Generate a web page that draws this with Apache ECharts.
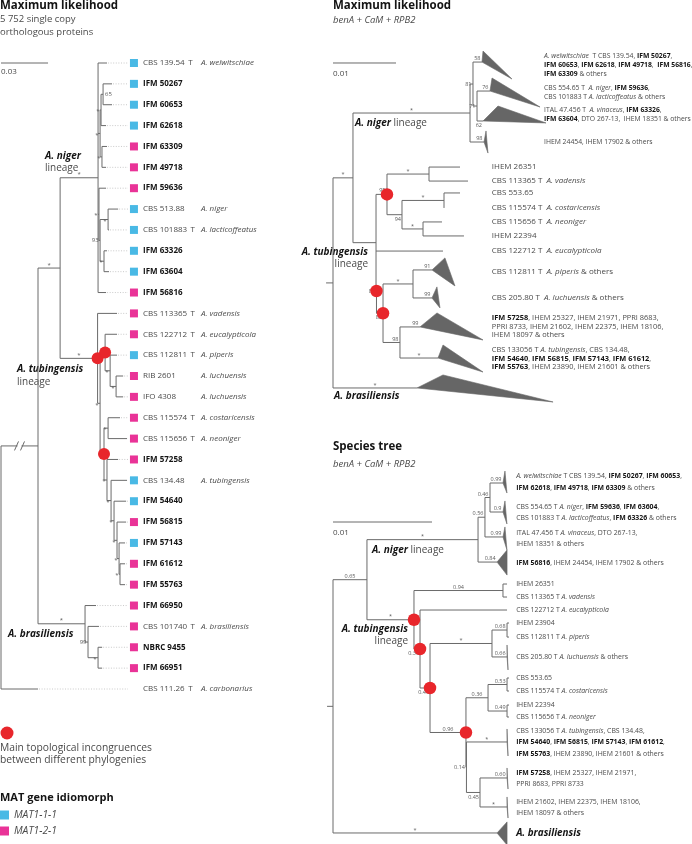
<!DOCTYPE html>
<html><head><meta charset="utf-8">
<script src="https://cdn.jsdelivr.net/npm/echarts/dist/echarts.min.js"></script>
<style>html,body{margin:0;padding:0;background:#fff}#c{width:692px;height:844px}</style>
</head><body><div id="c"></div>
<script>
// ================= DATA =================
// Tree 1: ML, 5 752 single copy orthologous proteins.  [id, parent, depth (x0.001 subst./site), leaf row]
const genomeNodes = [
 ['root', null, 0], ['ING','root',23.6], ['carb','root',23.6,30], ['NT','ING',37.7],
 ['NIG','NT',61.9], ['welw','NIG',67.6,0], ['A1','NIG',63.2], ['A2','A1',63.8], ['A3','A2',65.1],
 ['g50267','A3',70.8,1], ['g60653','A3',70.8,2], ['g62618','A2',67.0,3], ['A4','A1',64.4],
 ['g63309','A4',67.6,4], ['g49718','A4',67.0,5], ['B1','NIG',62.5], ['g59636','B1',67.0,6],
 ['B2','B1',63.2], ['B3','B2',68.3], ['g51388','B3',74.7,7], ['g101883','B3',68.9,8], ['B4','B2',65.7],
 ['g63326','B4',67.6,9], ['g63604','B4',68.9,10], ['g56816','NIG',67.0,11],
 ['TUB','NT',61.6], ['gvad','TUB',74.0,12], ['T1','TUB',63.2], ['T2','T1',66.4], ['geuca','T2',74.0,13],
 ['T2b','T2',69.6], ['gpip','T2b',74.0,14], ['T2c','T2b',73.4], ['grib','T2c',77.9,15], ['gifo','T2c',77.9,16],
 ['T3','T1',65.7], ['CN','T3',68.3], ['gcos','CN',75.9,17], ['gneo','CN',80.4,18], ['T4','T3',67.6],
 ['g57258','T4',74.7,19], ['T5','T4',70.2], ['g13448','T5',80.4,20], ['T6','T5',72.1], ['g54640','T6',79.8,21],
 ['T7','T6',74.0], ['g56815','T7',79.8,22], ['T8','T7',75.3], ['g57143','T8',79.1,23], ['T9','T8',75.9],
 ['g61612','T9',79.1,24], ['g55763','T9',79.1,25],
 ['BRA','ING',53.6], ['g66950','BRA',60.6,26], ['BR2','BRA',55.5], ['g101740','BR2',62.5,27],
 ['BR3','BR2',61.9], ['g9455','BR3',64.5,28], ['g66951','BR3',64.5,29]
];
const genomeStrains = { welw:'CBS 139.54', g50267:'IFM 50267', g60653:'IFM 60653', g62618:'IFM 62618',
 g63309:'IFM 63309', g49718:'IFM 49718', g59636:'IFM 59636', g51388:'CBS 513.88', g101883:'CBS 101883',
 g63326:'IFM 63326', g63604:'IFM 63604', g56816:'IFM 56816', gvad:'CBS 113365', geuca:'CBS 122712',
 gpip:'CBS 112811', grib:'RIB 2601', gifo:'IFO 4308', gcos:'CBS 115574', gneo:'CBS 115656', g57258:'IFM 57258',
 g13448:'CBS 134.48', g54640:'IFM 54640', g56815:'IFM 56815', g57143:'IFM 57143', g61612:'IFM 61612',
 g55763:'IFM 55763', g66950:'IFM 66950', g101740:'CBS 101740', g9455:'NBRC 9455', g66951:'IFM 66951', carb:'CBS 111.26' };
const genomeSpecies = { welw:'A. welwitschiae', g51388:'A. niger', g101883:'A. lacticoffeatus', gvad:'A. vadensis',
 geuca:'A. eucalypticola', gpip:'A. piperis', grib:'A. luchuensis', gifo:'A. luchuensis', gcos:'A. costaricensis',
 gneo:'A. neoniger', g13448:'A. tubingensis', g101740:'A. brasiliensis', carb:'A. carbonarius' };
const genomeTypeStrains = ['welw','g101883','gvad','geuca','gpip','gcos','gneo','g101740','carb'];
const genomeMAT111 = ['welw','g50267','g60653','g62618','g51388','g101883','g63326','g63604','gpip','g13448','g54640','g57143'];
const genomeMAT121 = ['g63309','g49718','g59636','g56816','gvad','geuca','grib','gifo','gcos','gneo','g57258','g56815',
 'g61612','g55763','g66950','g101740','g9455','g66951'];
const genomeSupport = { NT:'*', NIG:'*', TUB:'*', BRA:'*', A1:'*', A2:'*', A3:'65', A4:'*', B1:'*', B2:'93', B3:'*', B4:'*',
 T1:'*', T2:'*', T2b:'*', T2c:'*', T3:'*', CN:'*', T4:'*', T5:'*', T6:'*', T7:'*', T8:'*', T9:'*', BR2:'99', BR3:'*' };
const genomeIncongruent = ['TUB','T2','T3'];

// Tree 2: ML benA + CaM + RPB2. [id, parent, depth (x0.001), row, collapsed clade [dxTop, dyTop, dxBottom, dyBottom]]
const geneNodes = [
 ['R',null,0], ['NT','R',3.17], ['NIG','NT',21.75], ['N81','NIG',22.22],
 ['T58','N81',23.65,1.29,[0.16,-0.79,4.76,1.21]], ['N71','N81',22.86],
 ['T76','N71',24.92,3.36,[0.32,-0.93,7.94,1.14]], ['T62','N71',23.81,5.5,[2.38,-1.07,10.0,0.14]],
 ['C98','NIG',23.97,7.0,[0.32,-0.79,0.63,0.79]],
 ['TUB','NT',6.83], ['T95','TUB',8.57], ['V','T95',15.24], ['h26351','V',20.16,8.79], ['hvad','V',21.43,9.79],
 ['C94','T95',10.95], ['C1','C94',17.62], ['h55365','C1',20.16,10.64], ['hcos','C1',17.62,11.71],
 ['C2','C94',14.29], ['hneo','C2',17.3,12.71], ['h22394','C2',20.79,13.71], ['heuca','TUB',17.46,14.79],
 ['N82a','TUB',6.9,17.64], ['N82b','N82a',7.94], ['PL','N82b',12.7],
 ['T91','PL',15.71,16.14,[2.06,-0.86,3.65,1.14]], ['T99a','PL',15.71,18.14,[0.79,-0.79,1.27,0.71]],
 ['T98','N82b',10.63], ['T99b','T98',13.81,20.21,[2.7,-1.0,10.0,0.93]], ['Tst','T98',16.67,22.43,[0.79,-0.93,7.14,1.0]],
 ['BRA','R',13.33,24.57,[4.13,-0.93,21.6,1.0]]
];
const geneLabels = {
 T58:'{i|A. welwitschiae}  T CBS 139.54, {b|IFM 50267},\n{b|IFM 60653}, {b|IFM 62618}, {b|IFM 49718},  {b|IFM 56816},\n{b|IFM 63309} & others',
 T76:'CBS 554.65 T  {i|A. niger}, {b|IFM 59636},\nCBS 101883 T {i|A. lacticoffeatus} & others',
 T62:'ITAL 47.456 T  {i|A. vinaceus}, {b|IFM 63326},\n{b|IFM 63604}, DTO 267-13,  IHEM 18351 & others',
 C98:'IHEM 24454, IHEM 17902 & others',
 h26351:'IHEM 26351', hvad:'CBS 113365 T  {i|A. vadensis}', h55365:'CBS 553.65',
 hcos:'CBS 115574 T  {i|A. costaricensis}', hneo:'CBS 115656 T  {i|A. neoniger}', h22394:'IHEM 22394',
 heuca:'CBS 122712 T  {i|A. eucalypticola}', T91:'CBS 112811 T  {i|A. piperis} & others',
 T99a:'CBS 205.80 T  {i|A. luchuensis} & others',
 T99b:'{b|IFM 57258}, IHEM 25327, IHEM 21971, PPRI 8683,\nPPRI 8733, IHEM 21602, IHEM 22375, IHEM 18106,\nIHEM 18097 & others',
 Tst:'CBS 133056 T {i|A. tubingensis}, CBS 134.48,\n{b|IFM 54640}, {b|IFM 56815}, {b|IFM 57143}, {b|IFM 61612},\n{b|IFM 55763}, IHEM 23890, IHEM 21601 & others'
};
const geneSupport = { NT:'*', NIG:'*', N81:'81', T58:'58', N71:'71', T76:'76', T62:'62', C98:'98', T95:'95', V:'*',
 C94:'94', C1:'*', C2:'*', N82a:'82', N82b:'82', PL:'*', T91:'91', T99a:'99', T98:'98', T99b:'99', Tst:'*', BRA:'*' };
const geneIncongruent = ['T95','N82a','N82b'];

// Tree 3: species tree benA + CaM + RPB2
const speciesNodes = [
 ['R',null,0], ['NT','R',3.43], ['NIG','NT',14.65], ['N56','NIG',15.35], ['N46','N56',15.86],
 ['C99a','N46',17.17,1.77,[0.2,-0.92,0.4,0.77]], ['C09','N46',17.17,4.0,[0.2,-0.85,0.4,0.92]],
 ['C99b','N56',17.17,5.92,[0.2,-0.77,0.4,1.0]], ['C84','NIG',16.57,7.85,[1.01,-0.92,1.01,1.0]],
 ['TUB','NT',8.18], ['V','TUB',17.17], ['s26351','V',17.58,9.54], ['svad','V',17.58,10.54],
 ['N36','TUB',8.79], ['seuca','N36',17.58,11.54], ['N49','N36',9.8], ['PL','N49',16.06],
 ['N68','PL',17.58], ['s23904','N68',17.78,12.54], ['spip','N68',17.78,13.62],
 ['N66','PL',17.58,15.15,[0,-0.92,0.1,1.0]], ['N96','N49',13.43], ['C36','N96',15.66],
 ['N53','C36',17.58], ['s55365','N53',17.78,16.77], ['scos','N53',17.78,17.77],
 ['N49b','C36',17.58], ['s22394','N49b',17.78,18.85], ['sneo','N49b',17.78,19.77],
 ['N14','N96',13.48], ['Ctub','N14',17.58,21.69,[0,-1.0,0.1,1.08]], ['N45','N14',14.85],
 ['C60','N45',17.58,24.46,[0,-0.77,0.1,0.85]], ['Cst','N45',17.58,26.69,[0,-0.77,0.1,0.85]],
 ['BRA','R',16.57,28.69,[1.01,-0.85,1.01,0.92]]
];
const speciesLabels = {
 C99a:'{i|A. welwitschiae} T CBS 139.54, {b|IFM 50267}, {b|IFM 60653},\n{b|IFM 62618}, {b|IFM 49718}, {b|IFM 63309} & others',
 C09:'CBS 554.65 T {i|A. niger}, {b|IFM 59636}, {b|IFM 63604},\nCBS 101883 T {i|A. lacticoffeatus}, {b|IFM 63326} & others',
 C99b:'ITAL 47.456 T {i|A. vinaceus}, DTO 267-13,\nIHEM 18351 & others',
 C84:'{b|IFM 56816}, IHEM 24454, IHEM 17902 & others',
 s26351:'IHEM 26351', svad:'CBS 113365 T {i|A. vadensis}', seuca:'CBS 122712 T {i|A. eucalypticola}',
 s23904:'IHEM 23904', spip:'CBS 112811 T {i|A. piperis}', N66:'CBS 205.80 T {i|A. luchuensis} & others',
 s55365:'CBS 553.65', scos:'CBS 115574 T {i|A. costaricensis}', s22394:'IHEM 22394', sneo:'CBS 115656 T {i|A. neoniger}',
 Ctub:'CBS 133056 T {i|A. tubingensis}, CBS 134.48,\n{b|IFM 54640}, {b|IFM 56815}, {b|IFM 57143}, {b|IFM 61612},\n{b|IFM 55763}, IHEM 23890, IHEM 21601 & others',
 C60:'{b|IFM 57258}, IHEM 25327, IHEM 21971,\nPPRI 8683, PPRI 8733',
 Cst:'IHEM 21602, IHEM 22375, IHEM 18106,\nIHEM 18097 & others',
 BRA:'{big|A. brasiliensis}'
};
const speciesSupport = { NT:'0.65', NIG:'*', N56:'0.56', N46:'0.46', C99a:'0.99', C09:'0.9', C99b:'0.99', C84:'0.84',
 TUB:'*', V:'0.94', N36:'0.36', N49:'0.49', PL:'*', N68:'0.68', N66:'0.66', N96:'0.96', C36:'0.36', N53:'0.53',
 N49b:'0.49', N14:'0.14', Ctub:'*', N45:'0.45', C60:'0.60', Cst:'*', BRA:'*' };
const speciesIncongruent = ['TUB','N36','N49','N96'];

const scaleBars = [ {len:30, label:'0.03'}, {len:10, label:'0.01'}, {len:10, label:'0.01'} ];

// ================= LAYOUT / STYLE =================
const FONT = '"Open Sans", "Noto Sans", sans-serif';
const TXT = '#4a4a4a', DARK = '#141414', LINE = '#6a6a6a', TRI = '#666666';
const BLUE = '#1BA8DF', PINK = '#E3007D', RED = '#E8262B';

function buildTree(rows) {
  const list = rows.map(r => ({id:r[0], pid:r[1], depth:r[2], row:(r[3] == null ? null : r[3]), tri:r[4] || null, children:[]}));
  const byId = {}; list.forEach(n => byId[n.id] = n);
  list.forEach(n => { n.parent = n.pid ? byId[n.pid] : null; if (n.parent) n.parent.children.push(n); });
  const fix = n => { n.children.forEach(fix);
    if (n.row == null) { const rs = n.children.map(c => c.row); n.row = (Math.min(...rs) + Math.max(...rs)) / 2; } };
  list.filter(n => !n.parent).forEach(fix);
  return {list, byId};
}
const TG = buildTree(genomeNodes), TM = buildTree(geneNodes), TS = buildTree(speciesNodes);

const mctx = document.createElement('canvas').getContext('2d');
function textW(s, font) { mctx.font = font; return mctx.measureText(s).width; }
function rich(size, lh) {
  return {
    b: {font:`bold ${size}px ${FONT}`, fill:DARK, lineHeight:lh},
    i: {font:`italic ${size}px ${FONT}`, fill:TXT, lineHeight:lh},
    bi: {font:`italic bold ${size}px ${FONT}`, fill:DARK, lineHeight:lh},
    big: {font:`italic bold ${size + 3}px ${FONT}`, fill:DARK, lineHeight:lh}
  };
}

const genomePlace = { NT:'mid', NIG:'mid', TUB:'mid', BRA:'mid', A3:'right' };
const genePlace = { NT:'mid', NIG:'mid', V:'mid', C1:'mid', C2:'mid', PL:'mid', Tst:'mid', BRA:'mid',
  N81:'left', N71:'left', N82a:'left', T62:'below', C94:'below', N82b:'below' };
const speciesPlace = { NT:'mid', NIG:'mid', TUB:'mid', V:'mid', PL:'mid', N96:'mid', C36:'mid', Ctub:'mid', Cst:'mid', BRA:'mid',
  N36:'below', N49:'below', N45:'below', N14:'left' };

function supportEl(s, place, x0, x, y, size) {
  const star = s === '*';
  const st = {text:s, font:`${size}px ${FONT}`, fill:'#5a5a5a'};
  let e;
  if (place === 'mid') e = {x:(x0 + x) / 2, y: star ? y - 3 : y - 0.5, a:'center', v: star ? 'middle' : 'bottom'};
  else if (place === 'end') e = {x:x - 1.5, y: star ? y - 3 : y - 0.5, a:'right', v: star ? 'middle' : 'bottom'};
  else if (place === 'below') e = {x:x - 1, y:y + 1.5, a:'right', v:'top'};
  else if (place === 'right') e = {x:x + 2, y:y, a:'left', v:'middle'};
  else e = {x:x - 1.5, y: star ? y + 1.5 : y, a:'right', v:'middle'};
  return {type:'text', x:e.x, y:e.y, style:Object.assign(st, {align:e.a, verticalAlign:e.v})};
}

function treeSeries(T, gi, L) {
  return {
    type:'custom', xAxisIndex:gi, yAxisIndex:gi, clip:false, silent:true, z:2,
    data: T.list.map(n => [n.depth, n.row]),
    renderItem(params, api) {
      const n = T.list[params.dataIndex];
      const P = (d, r) => api.coord([d, r]);
      const els = [];
      const ls = {stroke:LINE, lineWidth:1};
      const [x, y] = P(n.depth, n.row);
      let x0 = x;
      if (n.parent) {
        x0 = P(n.parent.depth, n.row)[0];
        els.push({type:'line', shape:{x1:x0, y1:y, x2:x, y2:y}, style:ls});
        if (L.breakAt && L.breakAt === n.id) {
          const xm = (x0 + x) / 2;
          els.push({type:'rect', shape:{x:xm - 2, y:y - 2, width:4, height:4}, style:{fill:'#fff'}});
          els.push({type:'line', shape:{x1:xm - 5, y1:y + 4.5, x2:xm - 1, y2:y - 4.5}, style:ls});
          els.push({type:'line', shape:{x1:xm + 1, y1:y + 4.5, x2:xm + 5, y2:y - 4.5}, style:ls});
        }
      } else if (L.rootStem) {
        els.push({type:'line', shape:{x1:P(-L.rootStem, n.row)[0], y1:y, x2:x, y2:y}, style:ls});
      }
      if (n.children.length) {
        const rs = n.children.map(c => c.row).concat([n.row]);
        const ya = P(n.depth, Math.min(...rs))[1], yb = P(n.depth, Math.max(...rs))[1];
        els.push({type:'line', shape:{x1:x, y1:ya, x2:x, y2:yb}, style:ls});
      }
      if (n.tri) {
        const t = n.tri;
        els.push({type:'polygon', shape:{points:[P(n.depth, n.row), P(n.depth + t[0], n.row + t[1]), P(n.depth + t[2], n.row + t[3])]},
          style:{fill:TRI, stroke:TRI, lineWidth:0.6}});
      }
      const sup = L.support[n.id];
      if (sup && n.parent) els.push(supportEl(sup, L.place[n.id] || L.defPlace, x0, x, y, L.supSize));
      if (!n.children.length) L.leaf(n, P, els, x, y);
      return {type:'group', children:els};
    }
  };
}

// Left tree leaf labels
const G_LEADER_END = 81, G_MAT_COL = 84.8;
function genomeLeaf(n, P, els, x, y) {
  const xL = P(G_LEADER_END, n.row)[0];
  if (x < xL - 1) els.push({type:'line', shape:{x1:x + 1, y1:y, x2:xL, y2:y}, style:{stroke:'#bdbdbd', lineWidth:0.8, lineDash:[1, 1.6]}});
  const s = genomeStrains[n.id];
  const bold = /^(IFM|NBRC)/.test(s);
  const font = `${bold ? 'bold ' : ''}8px ${FONT}`;
  els.push({type:'text', x:xL + 15, y:y, style:{text:s, font:font, fill: bold ? DARK : TXT, verticalAlign:'middle', align:'left'}});
  if (genomeTypeStrains.includes(n.id)) {
    const tx = Math.max(xL + 15 + textW(s, font) + 3.5, xL + 58);
    els.push({type:'text', x:tx, y:y, style:{text:'T', font:`8px ${FONT}`, fill:TXT, verticalAlign:'middle'}});
  }
  if (genomeSpecies[n.id]) els.push({type:'text', x:xL + 73, y:y,
    style:{text:genomeSpecies[n.id], font:`italic 8px ${FONT}`, fill:TXT, verticalAlign:'middle'}});
}
function richLeaf(labels, colFn, sizeFn, lhFn) {
  return function (n, P, els) {
    const t = labels[n.id]; if (!t) return;
    const r = n.tri ? n.row + (n.tri[1] + n.tri[3]) / 2 : n.row;
    const [lx, ly] = P(colFn(n), r);
    const size = sizeFn(n), lh = lhFn(n);
    els.push({type:'text', x:lx, y:ly, style:{text:t, font:`${size}px ${FONT}`, fill:TXT, lineHeight:lh,
      align:'left', verticalAlign:'middle', rich:rich(size, lh)}});
  };
}
const nigerGroup = ['T58','T76','T62','C98'];

const series = [
  treeSeries(TG, 0, {support:genomeSupport, place:genomePlace, defPlace:'left', supSize:6, breakAt:'ING', leaf:genomeLeaf}),
  treeSeries(TM, 1, {support:geneSupport, place:genePlace, defPlace:'end', supSize:5.5, rootStem:1.1,
    leaf:richLeaf(geneLabels, n => nigerGroup.includes(n.id) ? 33.5 : 25.2,
      n => nigerGroup.includes(n.id) ? 6.8 : (n.tri && geneLabels[n.id].includes('\n') ? 7.4 : 8),
      n => nigerGroup.includes(n.id) ? 8.6 : 8.8)}),
  treeSeries(TS, 2, {support:speciesSupport, place:speciesPlace, defPlace:'end', supSize:5.5, rootStem:0.6,
    leaf:richLeaf(speciesLabels, () => 18.5, () => 6.9, () => 11.5)}),
];
// scale bars
const scaleRows = [0, 1.357, 4.77];
scaleBars.forEach((sb, gi) => series.push({
  type:'custom', xAxisIndex:gi, yAxisIndex:gi, clip:false, silent:true, data:[[0, scaleRows[gi], sb.len]],
  renderItem(p, api) {
    const a = api.coord([api.value(0), api.value(1)]), b = api.coord([api.value(2), api.value(1)]);
    return {type:'group', children:[
      {type:'line', shape:{x1:a[0], y1:a[1], x2:b[0], y2:b[1]}, style:{stroke:LINE, lineWidth:1}},
      {type:'text', x:a[0], y:a[1] + (gi === 0 ? 8.5 : 10.5), style:{text:sb.label, font:`8px ${FONT}`, fill:TXT, verticalAlign:'middle'}}
    ]};
  }
}));
// incongruence dots
[[TG, genomeIncongruent, 0, 12], [TM, geneIncongruent, 1, 12.5], [TS, speciesIncongruent, 2, 12.5]].forEach(([T, ids, gi, sz]) =>
  series.push({type:'scatter', xAxisIndex:gi, yAxisIndex:gi, clip:false, silent:true, z:5, symbolSize:sz,
    itemStyle:{color:RED, opacity:1}, data: ids.map(id => [T.byId[id].depth, T.byId[id].row])}));
// MAT idiomorph squares
series.push({name:'MAT1-1-1', type:'scatter', xAxisIndex:0, yAxisIndex:0, clip:false, silent:true, z:5, symbol:'rect', symbolSize:8,
  itemStyle:{color:BLUE}, data: genomeMAT111.map(id => [G_MAT_COL, TG.byId[id].row])});
series.push({name:'MAT1-2-1', type:'scatter', xAxisIndex:0, yAxisIndex:0, clip:false, silent:true, z:5, symbol:'rect', symbolSize:8,
  itemStyle:{color:PINK}, data: genomeMAT121.map(id => [G_MAT_COL, TG.byId[id].row])});

const grids = [
  {left:1, top:63, width:127, height:626},
  {left:333, top:44, width:157.5, height:364},
  {left:333, top:460, width:178.2, height:377}
];
const xMax = [81, 25, 18], yMax = [30, 26, 29];

function T(x, y, text, size, opt) {
  opt = opt || {};
  return {type:'text', x:x, y:y, silent:true, style:{text:text, font:`${opt.w || ''} ${size}px ${FONT}`, fill:opt.fill || TXT,
    align:opt.align || 'left', verticalAlign:'middle', rich:rich(size, size + 2)}};
}
const graphic = [
  T(0, 6, 'Maximum likelihood', 11.5, {w:'bold', fill:DARK}),
  T(0, 19, '5 752 single copy', 9.5), T(0, 32, 'orthologous proteins', 9.5),
  T(333, 6, 'Maximum likelihood', 11.5, {w:'bold', fill:DARK}),
  T(333, 20, 'benA + CaM + RPB2', 9.5, {w:'italic'}),
  T(333, 447, 'Species tree', 11.5, {w:'bold', fill:DARK}),
  T(333, 464, 'benA + CaM + RPB2', 9.5, {w:'italic'}),
  T(45, 156, '{bi|A. niger}', 10), T(45, 168, 'lineage', 10),
  T(17, 369, '{bi|A. tubingensis}', 10), T(17, 382, 'lineage', 10),
  T(8, 634, '{bi|A. brasiliensis}', 10),
  T(355, 123, '{bi|A. niger} lineage', 10),
  T(368, 252, '{bi|A. tubingensis}', 10, {align:'right'}), T(368, 264, 'lineage', 10, {align:'right'}),
  T(334, 396, '{bi|A. brasiliensis}', 10),
  T(372, 550, '{bi|A. niger} lineage', 10),
  T(408, 629, '{bi|A. tubingensis}', 10, {align:'right'}), T(408, 641, 'lineage', 10, {align:'right'}),
  {type:'circle', shape:{cx:7, cy:733, r:6.5}, style:{fill:RED}, silent:true},
  T(0, 748, 'Main topological incongruences', 10.3), T(0, 760, 'between different phylogenies', 10.3),
  T(0, 798, 'MAT gene idiomorph', 11, {w:'bold', fill:DARK})
];

const chart = echarts.init(document.getElementById('c'), null, {renderer:'canvas', width:692, height:844});
chart.setOption({
  animation:false,
  backgroundColor:'#ffffff',
  grid: grids,
  xAxis: grids.map((g, i) => ({gridIndex:i, type:'value', min:0, max:xMax[i], show:false})),
  yAxis: grids.map((g, i) => ({gridIndex:i, type:'value', min:0, max:yMax[i], inverse:true, show:false})),
  legend: {left:0, top:810, orient:'vertical', padding:0, itemWidth:9, itemHeight:9, itemGap:6, selectedMode:false,
    textStyle:{fontFamily:FONT, fontSize:10.3, fontStyle:'italic', color:TXT},
    data:[{name:'MAT1-1-1', icon:'rect'}, {name:'MAT1-2-1', icon:'rect'}]},
  graphic: graphic,
  series: series
});
</script></body></html>
